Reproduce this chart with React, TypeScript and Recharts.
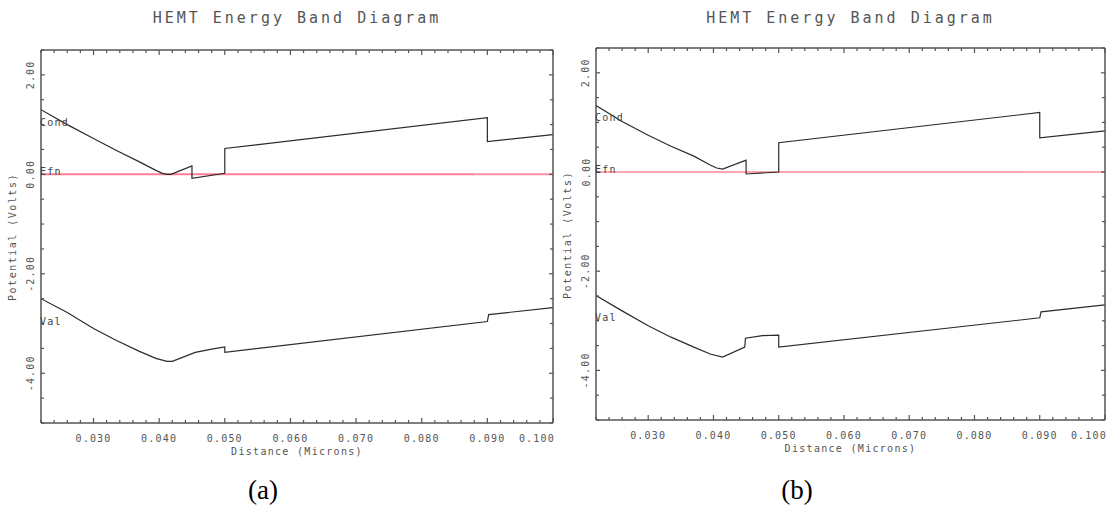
import { LineChart, Line, XAxis, YAxis } from "recharts"

// (a) conduction band
const condDistA = [0.022, 0.026, 0.03, 0.0335, 0.037, 0.0395, 0.0405, 0.0412, 0.0418, 0.045, 0.045, 0.05, 0.05, 0.09, 0.09, 0.1]
const condPotA = [1.3, 1.0, 0.72, 0.48, 0.25, 0.08, 0.02, 0.0, 0.0, 0.17, -0.08, 0.02, 0.52, 1.14, 0.66, 0.8]
// (a) valence band
const valDistA = [0.022, 0.026, 0.03, 0.0335, 0.037, 0.0395, 0.0412, 0.042, 0.0455, 0.0478, 0.05, 0.05, 0.09, 0.0902, 0.1]
const valPotA = [-2.5, -2.78, -3.1, -3.34, -3.56, -3.7, -3.76, -3.76, -3.58, -3.52, -3.47, -3.58, -2.96, -2.82, -2.68]

// (b) conduction band
const condDistB = [0.022, 0.026, 0.03, 0.0335, 0.037, 0.0395, 0.0405, 0.0414, 0.045, 0.045, 0.05, 0.05, 0.09, 0.09, 0.1]
const condPotB = [1.34, 1.02, 0.74, 0.52, 0.32, 0.14, 0.08, 0.06, 0.24, -0.04, 0.0, 0.59, 1.2, 0.69, 0.83]
// (b) valence band
const valDistB = [0.022, 0.026, 0.03, 0.0335, 0.037, 0.0395, 0.0414, 0.0448, 0.0449, 0.0475, 0.05, 0.05, 0.09, 0.0902, 0.1]
const valPotB = [-2.49, -2.8, -3.1, -3.33, -3.53, -3.67, -3.73, -3.53, -3.35, -3.3, -3.29, -3.53, -2.94, -2.82, -2.68]

// electron quasi-Fermi level, split where the trace changes shade
const efnDist = [0.022, 0.088]
const efnPot = [0, 0]
const efnTailDist = [0.088, 0.1]
const efnTailPot = [0, 0]

const xTicks = Array.from({ length: 40 }, (_, i) => (22 + 2 * i) / 1000)
const xMajor = [0.03, 0.04, 0.05, 0.06, 0.07, 0.08, 0.09, 0.1]
const yTicks = Array.from({ length: 16 }, (_, i) => -5 + 0.5 * i)
const yMajor = [-4, -2, 0, 2]

type Pt = { x: number; v: number }
const zip = (xs: number[], vs: number[]): Pt[] => xs.map((x, i) => ({ x, v: vs[i] }))

const AXIS = "#555"
const INK = "#2b2b2b"
const mono = "'DejaVu Sans Mono', monospace"
const small = { fontFamily: mono, fontSize: 10, letterSpacing: 1.2, fill: "#555" }

// axis boxes are 1px thick; margins are trimmed by the same amount
const AX = 1

function xTick(side: "bottom" | "top") {
  return (p: any) => {
    const v = p.payload.value
    const major = xMajor.includes(v)
    const last = v === xMajor[xMajor.length - 1]
    const dir = side === "bottom" ? -1 : 1
    return (
      <g>
        <line x1={p.x} x2={p.x} y1={p.y} y2={p.y + dir * (major ? 5 : 3)} stroke={AXIS} strokeWidth={1.2} />
        {side === "bottom" && major && (
          <text
            x={last ? p.x + 2 : p.x}
            y={p.y + 15}
            textAnchor={last ? "end" : "middle"}
            dominantBaseline="central"
            {...small}
          >
            {v.toFixed(3)}
          </text>
        )}
      </g>
    )
  }
}

function yTick(side: "left" | "right") {
  return (p: any) => {
    const v = p.payload.value
    const major = yMajor.includes(v)
    const dir = side === "left" ? 1 : -1
    const tx = p.x - 10
    return (
      <g>
        <line x1={p.x} x2={p.x + dir * (major ? 4 : 3)} y1={p.y} y2={p.y} stroke={AXIS} strokeWidth={1.2} />
        {side === "left" && major && (
          <text
            x={tx}
            y={p.y}
            transform={`rotate(-90 ${tx} ${p.y})`}
            textAnchor="middle"
            dominantBaseline="central"
            {...small}
          >
            {v.toFixed(2)}
          </text>
        )}
      </g>
    )
  }
}

function curveName(name: string, dy: number) {
  return (p: any) =>
    p.index === 0 ? (
      <text x={p.x - 1} y={p.y + dy} dominantBaseline="central" {...small} fill="#444">
        {name}
      </text>
    ) : (
      <g />
    )
}

type PanelProps = {
  left: number
  plot: { left: number; top: number; w: number; h: number }
  cond: Pt[]
  val: Pt[]
  efnColor: string
  efnWidth: number
  tailColor: string
  tailWidth: number
  dy: { cond: number; efn: number; val: number }
  tag: string
  tagX: number
}

const W = 556
const H = 470

function overlay(x: number, y: number, rotate = false): React.CSSProperties {
  return {
    position: "absolute",
    left: x,
    top: y,
    transform: `translate(-50%, -50%)${rotate ? " rotate(-90deg)" : ""}`,
    whiteSpace: "nowrap",
    lineHeight: 1,
  }
}

function Panel({ left, plot, cond, val, efnColor, efnWidth, tailColor, tailWidth, dy, tag, tagX }: PanelProps) {
  const cx = plot.left + plot.w / 2
  const margin = {
    left: plot.left - AX,
    top: plot.top - AX,
    right: W - plot.left - plot.w - AX,
    bottom: H - plot.top - plot.h - AX,
  }
  const textStyle = { fontFamily: mono, color: "#555" }
  const axisLine = { stroke: AXIS, strokeWidth: 1.5 }
  return (
    <div style={{ position: "absolute", left, top: 0, width: W, height: 515 }}>
      <LineChart width={W} height={H} margin={margin}>
        <XAxis
          xAxisId="b"
          dataKey="x"
          type="number"
          domain={[0.022, 0.1]}
          allowDataOverflow
          ticks={xTicks}
          interval={0}
          height={AX}
          tickSize={0}
          tickMargin={0}
          tickLine={false}
          tick={xTick("bottom")}
          axisLine={axisLine}
        />
        <XAxis
          xAxisId="t"
          orientation="top"
          dataKey="x"
          type="number"
          domain={[0.022, 0.1]}
          allowDataOverflow
          ticks={xTicks}
          interval={0}
          height={AX}
          tickSize={0}
          tickMargin={0}
          tickLine={false}
          tick={xTick("top")}
          axisLine={axisLine}
        />
        <YAxis
          yAxisId="l"
          type="number"
          domain={[-5, 2.5]}
          allowDataOverflow
          ticks={yTicks}
          interval={0}
          width={AX}
          tickSize={0}
          tickMargin={0}
          tickLine={false}
          tick={yTick("left")}
          axisLine={axisLine}
        />
        <YAxis
          yAxisId="r"
          orientation="right"
          type="number"
          domain={[-5, 2.5]}
          allowDataOverflow
          ticks={yTicks}
          interval={0}
          width={AX}
          tickSize={0}
          tickMargin={0}
          tickLine={false}
          tick={yTick("right")}
          axisLine={axisLine}
        />
        <Line
          xAxisId="b"
          yAxisId="l"
          data={zip(efnDist, efnPot)}
          dataKey="v"
          type="linear"
          stroke={efnColor}
          strokeWidth={efnWidth}
          dot={false}
          label={curveName("Efn", dy.efn)}
          isAnimationActive={false}
        />
        <Line
          xAxisId="b"
          yAxisId="l"
          data={zip(efnTailDist, efnTailPot)}
          dataKey="v"
          type="linear"
          stroke={tailColor}
          strokeWidth={tailWidth}
          dot={false}
          isAnimationActive={false}
        />
        <Line
          xAxisId="b"
          yAxisId="l"
          data={cond}
          dataKey="v"
          type="linear"
          stroke={INK}
          strokeWidth={1.2}
          dot={false}
          label={curveName("Cond", dy.cond)}
          isAnimationActive={false}
        />
        <Line
          xAxisId="b"
          yAxisId="l"
          data={val}
          dataKey="v"
          type="linear"
          stroke={INK}
          strokeWidth={1.2}
          dot={false}
          label={curveName("Val", dy.val)}
          isAnimationActive={false}
        />
      </LineChart>
      <div style={{ ...overlay(cx, 18), ...textStyle, fontSize: 15, letterSpacing: 3 }}>HEMT Energy Band Diagram</div>
      <div style={{ ...overlay(cx, plot.top + plot.h + 29), ...textStyle, fontSize: 10, letterSpacing: 1.3 }}>
        Distance (Microns)
      </div>
      <div style={{ ...overlay(plot.left - 28, plot.top + 187, true), ...textStyle, fontSize: 10, letterSpacing: 1.5 }}>
        Potential (Volts)
      </div>
      <div style={{ ...overlay(tagX, 490), fontFamily: "'Liberation Serif', serif", fontSize: 27, color: "#000" }}>{tag}</div>
    </div>
  )
}

export default function App() {
  return (
    <div style={{ position: "absolute", left: 0, top: 0, width: 1111, height: 515, background: "#fff", overflow: "hidden" }}>
      <Panel
        left={0}
        plot={{ left: 41, top: 50, w: 512, h: 373 }}
        cond={zip(condDistA, condPotA)}
        val={zip(valDistA, valPotA)}
        efnColor="#ff7d92"
        efnWidth={2}
        tailColor="#ff8fa2"
        tailWidth={2}
        dy={{ cond: 13, efn: -3, val: 23 }}
        tag="(a)"
        tagX={263}
      />
      <Panel
        left={555}
        plot={{ left: 41, top: 48, w: 509, h: 372 }}
        cond={zip(condDistB, condPotB)}
        val={zip(valDistB, valPotB)}
        efnColor="#ff4a68"
        efnWidth={1.2}
        tailColor="#ffaabb"
        tailWidth={2}
        dy={{ cond: 12, efn: -3, val: 22 }}
        tag="(b)"
        tagX={242}
      />
    </div>
  )
}
